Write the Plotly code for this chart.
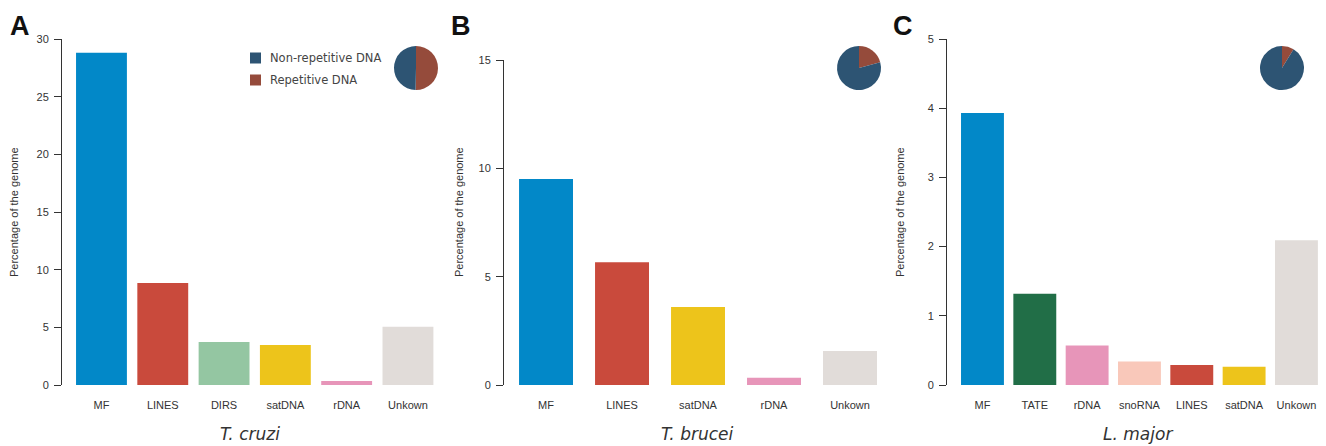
import plotly.graph_objects as go

W, H = 1326, 446

# ---- data ----
cats_a = ["MF", "LINES", "DIRS", "satDNA", "rDNA", "Unkown"]
vals_a = [28.8, 8.85, 3.73, 3.47, 0.35, 5.06]
cats_b = ["MF", "LINES", "satDNA", "rDNA", "Unkown"]
vals_b = [9.51, 5.66, 3.60, 0.34, 1.57]
cats_c = ["MF", "TATE", "rDNA", "snoRNA", "LINES", "satDNA", "Unkown"]
vals_c = [3.93, 1.32, 0.57, 0.34, 0.29, 0.265, 2.09]

pie_labels = ["Repetitive DNA", "Non-repetitive DNA"]
pie_a = [50.3, 49.7]
pie_b = [20.7, 79.3]
pie_c = [8.8, 91.2]
legend_labels = ["Non-repetitive DNA", "Repetitive DNA"]

species = ["T. cruzi", "T. brucei", "L. major"]
panel_letters = ["A", "B", "C"]
yticks_a = [0, 5, 10, 15, 20, 25, 30]
yticks_b = [0, 5, 10, 15]
yticks_c = [0, 1, 2, 3, 4, 5]

# ---- styles ----
cmap = {
    "MF": "#0288c8", "LINES": "#c94a3c", "DIRS": "#94c6a2", "satDNA": "#edc41b",
    "rDNA": "#e795b9", "Unkown": "#e1dcd9", "TATE": "#216e47", "snoRNA": "#f9c8ba",
}
pcol = {"Non-repetitive DNA": "#2d5473", "Repetitive DNA": "#954b3b"}
axcol = "#333333"

def px(x):
    return x / W

def py(y):
    return (H - y) / H

fig = go.Figure()

panels = [
    dict(cats=cats_a, vals=vals_a, ticks=yticks_a, ymax=30, axx=62, right=438.6,
         xr=[-0.644, 5.5], width=0.83, top=39, pie=pie_a, pcx=416, title_x=250,
         ytitle_x=14, letter_x=20),
    dict(cats=cats_b, vals=vals_b, ticks=yticks_b, ymax=15, axx=504, right=888,
         xr=[-0.553, 4.5], width=0.71, top=60, pie=pie_b, pcx=859, title_x=697,
         ytitle_x=459, letter_x=461),
    dict(cats=cats_c, vals=vals_c, ticks=yticks_c, ymax=5, axx=947, right=1322.6,
         xr=[-0.678, 6.5], width=0.82, top=39, pie=pie_c, pcx=1282, title_x=1138,
         ytitle_x=900, letter_x=903),
]

annotations = []
shapes = []
for i, p in enumerate(panels):
    sfx = "" if i == 0 else str(i + 1)
    xs = list(range(len(p["cats"])))
    fig.add_trace(go.Bar(
        x=xs, y=p["vals"], width=p["width"],
        marker=dict(color=[cmap[c] for c in p["cats"]], line=dict(width=0)),
        xaxis="x" + sfx, yaxis="y" + sfx, showlegend=False, hoverinfo="skip",
    ))
    fig.update_layout(**{
        "xaxis" + sfx: dict(
            domain=[px(p["axx"]), px(p["right"])], range=p["xr"], anchor="y" + sfx,
            tickvals=xs, ticktext=p["cats"], showline=False, showgrid=False,
            zeroline=False, ticks="", ticklabelstandoff=12,
            tickfont=dict(family="Liberation Sans, Arial", size=11, color=axcol),
            fixedrange=True, automargin=False,
        ),
        "yaxis" + sfx: dict(
            domain=[py(385), py(p["top"])], range=[0, p["ymax"]], anchor="x" + sfx,
            tickvals=p["ticks"], showline=True, linecolor=axcol, linewidth=1,
            ticks="outside", ticklen=7, tickcolor=axcol, tickwidth=1,
            showgrid=False, zeroline=False, ticklabelstandoff=3,
            tickfont=dict(family="Liberation Sans, Arial", size=11, color=axcol),
            fixedrange=True, automargin=False,
        ),
    })
    # pie
    r = 22
    fig.add_trace(go.Pie(
        labels=pie_labels, values=p["pie"], sort=False, direction="clockwise",
        rotation=0, marker=dict(colors=[pcol[l] for l in pie_labels], line=dict(width=0)),
        textinfo="none", hoverinfo="skip", showlegend=False,
        domain=dict(x=[px(p["pcx"] - r), px(p["pcx"] + r)], y=[py(68 + r), py(68 - r)]),
    ))
    annotations.append(dict(
        text="<i>" + species[i] + "</i>", x=px(p["title_x"]), y=py(434),
        xref="paper", yref="paper", showarrow=False, xanchor="center", yanchor="middle",
        font=dict(family="DejaVu Sans", size=17, color="#333333"),
    ))
    annotations.append(dict(
        text="Percentage of the genome", x=px(p["ytitle_x"]), y=py(212), textangle=-90,
        xref="paper", yref="paper", showarrow=False, xanchor="center", yanchor="middle",
        font=dict(family="Liberation Sans, Arial", size=11, color="#333333"),
    ))
    annotations.append(dict(
        text="<b>" + panel_letters[i] + "</b>", x=px(p["letter_x"]), y=py(26),
        xref="paper", yref="paper", showarrow=False, xanchor="center", yanchor="middle",
        font=dict(family="Liberation Sans, Arial", size=27, color="#111111"),
    ))

# legend (panel A)
leg_rows = [58, 80]
for lab, yc in zip(legend_labels, leg_rows):
    shapes.append(dict(type="rect", xref="paper", yref="paper",
                       x0=px(250), x1=px(261), y0=py(yc + 5.5), y1=py(yc - 5.5),
                       fillcolor=pcol[lab], line=dict(width=0)))
    annotations.append(dict(
        text=lab, x=px(268), y=py(yc), xref="paper", yref="paper", showarrow=False,
        xanchor="left", yanchor="middle",
        font=dict(family="DejaVu Sans", size=11.5, color="#444444"),
    ))

fig.update_layout(
    width=W, height=H, margin=dict(l=0, r=0, t=0, b=0, pad=0),
    paper_bgcolor="white", plot_bgcolor="white",
    annotations=annotations, shapes=shapes, showlegend=False,
)

fig.write_html("out.html", config={"displayModeBar": False},
               post_script="document.body.style.margin='0';document.body.style.padding='0';")
